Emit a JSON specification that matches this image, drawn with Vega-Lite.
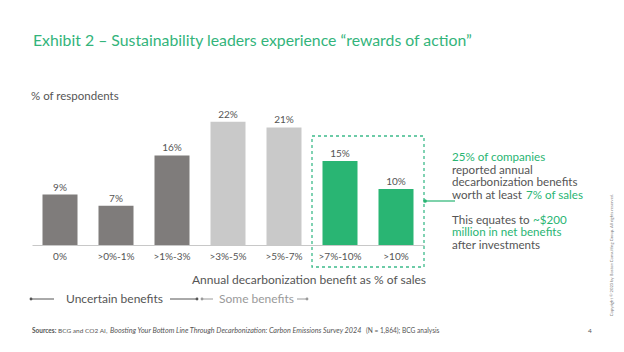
{
  "$schema": "https://vega.github.io/schema/vega-lite/v6.json",
  "autosize": {"type": "none"},
  "width": 392,
  "height": 140,
  "padding": {"left": 32, "top": 105, "right": 200, "bottom": 107},
  "background": "#ffffff",
  "config": {"view": {"stroke": null}, "font": "Lato", "text": {"font": "Lato"}},
  "layer": [
    {
      "data": {"values": [
        {"cat": "0%", "pct": 9, "label": "9%", "group": "Uncertain"},
        {"cat": ">0%-1%", "pct": 7, "label": "7%", "group": "Uncertain"},
        {"cat": ">1%-3%", "pct": 16, "label": "16%", "group": "Uncertain"},
        {"cat": ">3%-5%", "pct": 22, "label": "22%", "group": "Some"},
        {"cat": ">5%-7%", "pct": 21, "label": "21%", "group": "Some"},
        {"cat": ">7%-10%", "pct": 15, "label": "15%", "group": "Leaders"},
        {"cat": ">10%", "pct": 10, "label": "10%", "group": "Leaders"}
      ]},
      "encoding": {
        "x": {"field": "cat", "type": "nominal", "sort": null,
          "scale": {"paddingInner": 0.375, "paddingOuter": 0.1875},
          "axis": {"title": null, "labelAngle": 0, "ticks": false, "labelPadding": 6, "labelFontSize": 10, "labelColor": "#555555", "labelFont": "Lato", "domainColor": "#c8c8c8", "domainWidth": 1}},
        "y": {"field": "pct", "type": "quantitative", "scale": {"domain": [0, 25], "nice": false}, "axis": null}
      },
      "layer": [
        {"mark": {"type": "bar"},
          "encoding": {"color": {"field": "group", "type": "nominal", "legend": null,
            "scale": {"domain": ["Uncertain", "Some", "Leaders"], "range": ["#7f7c7b", "#c9c9c9", "#29b573"]}}}},
        {"mark": {"type": "text", "baseline": "alphabetic", "dy": -4, "fontSize": 10, "color": "#555555"},
          "encoding": {"text": {"field": "label", "type": "nominal"}}}
      ]
    },
    {
      "data": {"values": [{"t": "box"}]},
      "mark": {"type": "rect", "fill": null, "fillOpacity": 0, "stroke": "#3dbb8a", "strokeWidth": 1.3, "strokeDash": [3, 3]},
      "encoding": {"x": {"value": 280}, "x2": {"value": 392}, "y": {"value": 31}, "y2": {"value": 162}}
    },
    {
      "data": {"values": [{"t": "conn"}]},
      "mark": {"type": "rule", "color": "#29b573", "strokeWidth": 1.2},
      "encoding": {"x": {"value": 393}, "x2": {"value": 423}, "y": {"value": 96}}
    },
    {
      "data": {"values": [{"t": "dot"}]},
      "mark": {"type": "point", "filled": true, "color": "#29b573", "size": 14, "opacity": 1},
      "encoding": {"x": {"value": 393}, "y": {"value": 96}}
    },
    {
      "data": {"values": [{"t": "Exhibit 2 – Sustainability leaders experience “rewards of action”"}]},
      "mark": {"type": "text", "align": "left", "baseline": "alphabetic", "fontSize": 15.8, "color": "#33b47b"},
      "encoding": {"text": {"field": "t"}, "x": {"value": 1}, "y": {"value": -59}}
    },
    {
      "data": {"values": [{"t": "% of respondents"}]},
      "mark": {"type": "text", "align": "left", "baseline": "middle", "fontSize": 11.5, "color": "#555555"},
      "encoding": {"text": {"field": "t"}, "x": {"value": -1}, "y": {"value": -8}}
    },
    {
      "data": {"values": [{"t": "Annual decarbonization benefit as % of sales"}]},
      "mark": {"type": "text", "align": "center", "baseline": "middle", "fontSize": 12, "color": "#555555"},
      "encoding": {"text": {"field": "t"}, "x": {"value": 277}, "y": {"value": 175}}
    },
    {
      "data": {"values": [{"t": "Uncertain benefits"}]},
      "mark": {"type": "text", "align": "left", "baseline": "middle", "fontSize": 12, "color": "#555555"},
      "encoding": {"text": {"field": "t"}, "x": {"value": 34}, "y": {"value": 194}}
    },
    {
      "data": {"values": [{"t": "Some benefits"}]},
      "mark": {"type": "text", "align": "left", "baseline": "middle", "fontSize": 12, "color": "#9a9a9a"},
      "encoding": {"text": {"field": "t"}, "x": {"value": 187}, "y": {"value": 194}}
    },
    {
      "data": {"values": [{"a": "l1"}]},
      "mark": {"type": "rule", "color": "#555555", "strokeWidth": 1},
      "encoding": {"x": {"value": -1}, "x2": {"value": 22}, "y": {"value": 194}}
    },
    {
      "data": {"values": [{"a": "l2"}]},
      "mark": {"type": "rule", "color": "#555555", "strokeWidth": 1},
      "encoding": {"x": {"value": 138}, "x2": {"value": 165}, "y": {"value": 194}}
    },
    {
      "data": {"values": [{"a": "l3"}]},
      "mark": {"type": "rule", "color": "#9a9a9a", "strokeWidth": 1},
      "encoding": {"x": {"value": 170}, "x2": {"value": 181}, "y": {"value": 194}}
    },
    {
      "data": {"values": [{"a": "l4"}]},
      "mark": {"type": "rule", "color": "#9a9a9a", "strokeWidth": 1},
      "encoding": {"x": {"value": 265}, "x2": {"value": 275}, "y": {"value": 194}}
    },
    {
      "data": {"values": [{"a": "d1"}]},
      "mark": {"type": "point", "filled": true, "color": "#555555", "size": 8, "opacity": 1},
      "encoding": {"x": {"value": -1}, "y": {"value": 194}}
    },
    {
      "data": {"values": [{"a": "d2"}]},
      "mark": {"type": "point", "filled": true, "color": "#555555", "size": 8, "opacity": 1},
      "encoding": {"x": {"value": 165}, "y": {"value": 194}}
    },
    {
      "data": {"values": [{"a": "d3"}]},
      "mark": {"type": "point", "filled": true, "color": "#9a9a9a", "size": 8, "opacity": 1},
      "encoding": {"x": {"value": 170}, "y": {"value": 194}}
    },
    {
      "data": {"values": [{"a": "d4"}]},
      "mark": {"type": "point", "filled": true, "color": "#9a9a9a", "size": 8, "opacity": 1},
      "encoding": {"x": {"value": 275}, "y": {"value": 194}}
    },
    {
      "data": {"values": [{"t": "25% of companies"}]},
      "mark": {"type": "text", "align": "left", "baseline": "middle", "fontSize": 11.6, "color": "#29b573"},
      "encoding": {"text": {"field": "t"}, "x": {"value": 420}, "y": {"value": 53}}
    },
    {
      "data": {"values": [{"t": "reported annual"}]},
      "mark": {"type": "text", "align": "left", "baseline": "middle", "fontSize": 11.6, "color": "#555555"},
      "encoding": {"text": {"field": "t"}, "x": {"value": 420}, "y": {"value": 65.5}}
    },
    {
      "data": {"values": [{"t": "decarbonization benefits"}]},
      "mark": {"type": "text", "align": "left", "baseline": "middle", "fontSize": 11.6, "color": "#555555"},
      "encoding": {"text": {"field": "t"}, "x": {"value": 420}, "y": {"value": 78}}
    },
    {
      "data": {"values": [{"t": "worth at least"}]},
      "mark": {"type": "text", "align": "left", "baseline": "middle", "fontSize": 11.6, "color": "#555555"},
      "encoding": {"text": {"field": "t"}, "x": {"value": 420}, "y": {"value": 90.5}}
    },
    {
      "data": {"values": [{"t": "7% of sales"}]},
      "mark": {"type": "text", "align": "left", "baseline": "middle", "fontSize": 11.6, "color": "#29b573"},
      "encoding": {"text": {"field": "t"}, "x": {"value": 494}, "y": {"value": 90.5}}
    },
    {
      "data": {"values": [{"t": "This equates to"}]},
      "mark": {"type": "text", "align": "left", "baseline": "middle", "fontSize": 11.6, "color": "#555555"},
      "encoding": {"text": {"field": "t"}, "x": {"value": 420}, "y": {"value": 115.5}}
    },
    {
      "data": {"values": [{"t": "~$200"}]},
      "mark": {"type": "text", "align": "left", "baseline": "middle", "fontSize": 11.6, "color": "#29b573"},
      "encoding": {"text": {"field": "t"}, "x": {"value": 501}, "y": {"value": 115.5}}
    },
    {
      "data": {"values": [{"t": "million in net benefits"}]},
      "mark": {"type": "text", "align": "left", "baseline": "middle", "fontSize": 11.6, "color": "#29b573"},
      "encoding": {"text": {"field": "t"}, "x": {"value": 420}, "y": {"value": 128}}
    },
    {
      "data": {"values": [{"t": "after investments"}]},
      "mark": {"type": "text", "align": "left", "baseline": "middle", "fontSize": 11.6, "color": "#555555"},
      "encoding": {"text": {"field": "t"}, "x": {"value": 420}, "y": {"value": 140.5}}
    },
    {
      "data": {"values": [{"t": "Sources:"}]},
      "mark": {"type": "text", "align": "left", "baseline": "alphabetic", "fontSize": 6.5, "fontWeight": "bold", "color": "#555555"},
      "encoding": {"text": {"field": "t"}, "x": {"value": 0}, "y": {"value": 228}}
    },
    {
      "data": {"values": [{"t": "BCG and CO2 AI,"}]},
      "mark": {"type": "text", "align": "left", "baseline": "alphabetic", "fontSize": 6.5, "color": "#555555"},
      "encoding": {"text": {"field": "t"}, "x": {"value": 26}, "y": {"value": 228}}
    },
    {
      "data": {"values": [{"t": "Boosting Your Bottom Line Through Decarbonization: Carbon Emissions Survey 2024"}]},
      "mark": {"type": "text", "align": "left", "baseline": "alphabetic", "fontSize": 7.2, "fontStyle": "italic", "color": "#555555"},
      "encoding": {"text": {"field": "t"}, "x": {"value": 78}, "y": {"value": 228}}
    },
    {
      "data": {"values": [{"t": "(N = 1,864); BCG analysis"}]},
      "mark": {"type": "text", "align": "left", "baseline": "alphabetic", "fontSize": 6.6, "color": "#555555"},
      "encoding": {"text": {"field": "t"}, "x": {"value": 334}, "y": {"value": 228}}
    },
    {
      "data": {"values": [{"t": "4"}]},
      "mark": {"type": "text", "align": "center", "baseline": "alphabetic", "fontSize": 6.5, "color": "#555555"},
      "encoding": {"text": {"field": "t"}, "x": {"value": 558}, "y": {"value": 228}}
    },
    {
      "data": {"values": [{"t": "Copyright © 2023 by Boston Consulting Group. All rights reserved."}]},
      "mark": {"type": "text", "align": "center", "baseline": "middle", "fontSize": 4.2, "angle": 270, "color": "#777777"},
      "encoding": {"text": {"field": "t"}, "x": {"value": 580}, "y": {"value": 150}}
    }
  ]
}
